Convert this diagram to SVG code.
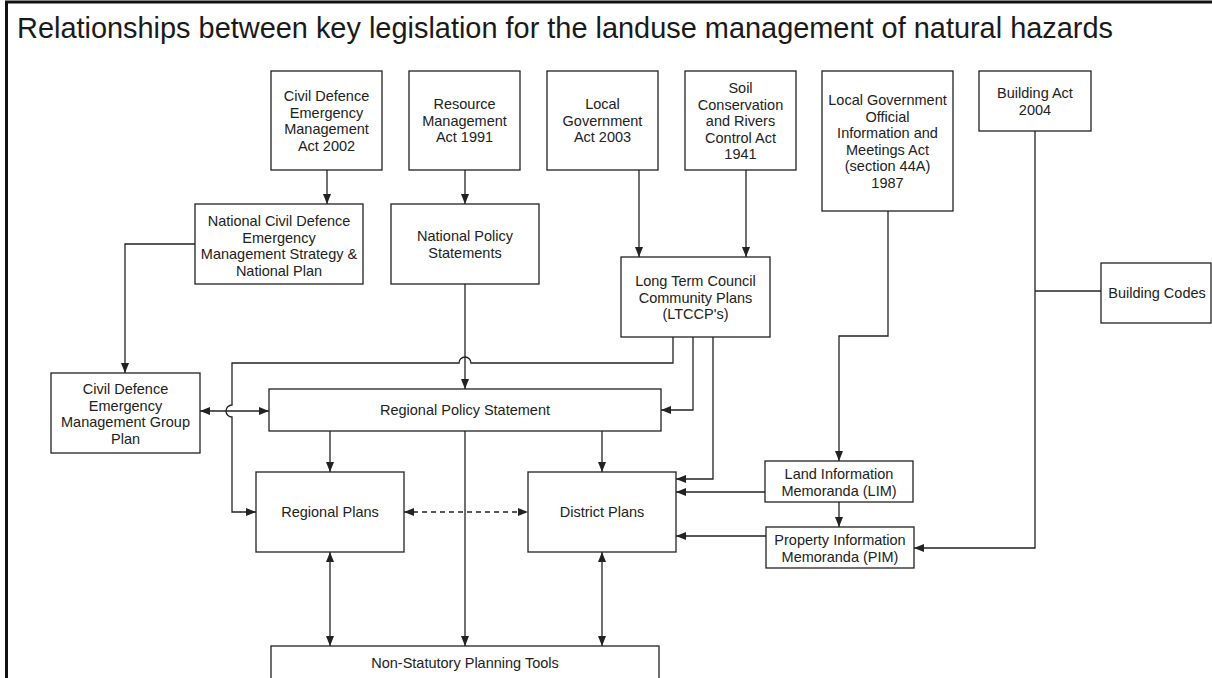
<svg xmlns="http://www.w3.org/2000/svg" width="1212" height="678" viewBox="0 0 1212 678">
<style>
.box{fill:#fff;stroke:#222;stroke-width:1.3}
.t{font-family:"Liberation Sans",Arial,sans-serif;font-size:14.5px;fill:#222;text-anchor:middle}
.title{font-family:"Liberation Sans",Arial,sans-serif;font-size:29px;fill:#1a1a1a}
.c{fill:none;stroke:#222;stroke-width:1.3}
.e{marker-end:url(#ah)}
.b{marker-start:url(#ah);marker-end:url(#ah)}
.d{stroke-dasharray:5 4}
</style>
<defs>
<marker id="ah" viewBox="0 0 10 8" refX="10" refY="4" markerWidth="10" markerHeight="8" markerUnits="userSpaceOnUse" orient="auto-start-reverse">
<path d="M0,0 L10,4 L0,8 z" fill="#222"/>
</marker>
</defs>
<rect width="1212" height="678" fill="#fff"/>
<path d="M6.5,690 V2 H1220" fill="none" stroke="#111" stroke-width="3"/>
<text class="title" x="17" y="38" textLength="1096" lengthAdjust="spacingAndGlyphs">Relationships between key legislation for the landuse management of natural hazards</text>

<g id="connectors">
<path class="c e" d="M327,170 V204"/>
<path class="c e" d="M465,170 V204"/>
<path class="c e" d="M639,170 V257"/>
<path class="c e" d="M746,170 V257"/>
<path class="c e" d="M195,244 H125 V373"/>
<path class="c e" d="M465,284 V389"/>
<path class="c e" d="M673,337 V363 H471 A6,6 0 0 0 459,363 H232 V405 A6,6 0 0 0 232,417 V512 H256"/>
<path class="c e" d="M693,337 V410 H661"/>
<path class="c e" d="M713,337 V479 H676"/>
<path class="c b" d="M200,411 H269"/>
<path class="c e" d="M330,431 V472"/>
<path class="c e" d="M602,431 V472"/>
<path class="c e" d="M465,431 V646"/>
<path class="c b d" d="M404,512 H528"/>
<path class="c b" d="M330,552 V646"/>
<path class="c b" d="M602,552 V646"/>
<path class="c e" d="M888,211 V336 H839 V461"/>
<path class="c e" d="M765,492 H676"/>
<path class="c e" d="M839,502 V527"/>
<path class="c e" d="M766,536 H676"/>
<path class="c e" d="M1035,131 V548 H914"/>
<path class="c" d="M1035,291 H1101"/>
</g>

<g id="cdem-act">
<rect class="box" x="271" y="71" width="111" height="99"/>
<text class="t" x="326.5" y="101">Civil Defence</text>
<text class="t" x="326.5" y="117.5">Emergency</text>
<text class="t" x="326.5" y="134">Management</text>
<text class="t" x="326.5" y="150.5">Act 2002</text>
</g>
<g id="rma">
<rect class="box" x="409" y="71" width="111" height="99"/>
<text class="t" x="464.5" y="109">Resource</text>
<text class="t" x="464.5" y="125.5">Management</text>
<text class="t" x="464.5" y="142">Act 1991</text>
</g>
<g id="lga">
<rect class="box" x="547" y="71" width="111" height="99"/>
<text class="t" x="602.5" y="109">Local</text>
<text class="t" x="602.5" y="125.5">Government</text>
<text class="t" x="602.5" y="142">Act 2003</text>
</g>
<g id="soil">
<rect class="box" x="685" y="71" width="111" height="99"/>
<text class="t" x="740.5" y="93">Soil</text>
<text class="t" x="740.5" y="109.5">Conservation</text>
<text class="t" x="740.5" y="126">and Rivers</text>
<text class="t" x="740.5" y="142.5">Control Act</text>
<text class="t" x="740.5" y="159">1941</text>
</g>
<g id="lgoima">
<rect class="box" x="822" y="71" width="131" height="140"/>
<text class="t" x="887.5" y="105">Local Government</text>
<text class="t" x="887.5" y="121.5">Official</text>
<text class="t" x="887.5" y="138">Information and</text>
<text class="t" x="887.5" y="154.5">Meetings Act</text>
<text class="t" x="887.5" y="171">(section 44A)</text>
<text class="t" x="887.5" y="187.5">1987</text>
</g>
<g id="building-act">
<rect class="box" x="979" y="71" width="112" height="60"/>
<text class="t" x="1035" y="98">Building Act</text>
<text class="t" x="1035" y="114.5">2004</text>
</g>
<g id="building-codes">
<rect class="box" x="1101" y="263" width="110" height="60"/>
<text class="t" x="1157" y="298">Building Codes</text>
</g>
<g id="ncdem-strategy">
<rect class="box" x="195" y="204" width="168" height="80"/>
<text class="t" x="279" y="226">National Civil Defence</text>
<text class="t" x="279" y="242.5">Emergency</text>
<text class="t" x="279" y="259">Management Strategy &amp;</text>
<text class="t" x="279" y="275.5">National Plan</text>
</g>
<g id="nps">
<rect class="box" x="391" y="204" width="148" height="80"/>
<text class="t" x="465" y="241">National Policy</text>
<text class="t" x="465" y="258">Statements</text>
</g>
<g id="ltccp">
<rect class="box" x="621" y="257" width="149" height="80"/>
<text class="t" x="695.5" y="286">Long Term Council</text>
<text class="t" x="695.5" y="302.5">Community Plans</text>
<text class="t" x="695.5" y="319">(LTCCP's)</text>
</g>
<g id="cdem-group-plan">
<rect class="box" x="51" y="373" width="149" height="80"/>
<text class="t" x="125.5" y="394">Civil Defence</text>
<text class="t" x="125.5" y="410.5">Emergency</text>
<text class="t" x="125.5" y="427">Management Group</text>
<text class="t" x="125.5" y="443.5">Plan</text>
</g>
<g id="rps">
<rect class="box" x="269" y="389" width="392" height="42"/>
<text class="t" x="465" y="415">Regional Policy Statement</text>
</g>
<g id="regional-plans">
<rect class="box" x="256" y="472" width="148" height="80"/>
<text class="t" x="330" y="517">Regional Plans</text>
</g>
<g id="district-plans">
<rect class="box" x="528" y="472" width="148" height="80"/>
<text class="t" x="602" y="517">District Plans</text>
</g>
<g id="lim">
<rect class="box" x="765" y="461" width="148" height="41"/>
<text class="t" x="839" y="479">Land Information</text>
<text class="t" x="839" y="496">Memoranda (LIM)</text>
</g>
<g id="pim">
<rect class="box" x="766" y="527" width="148" height="41"/>
<text class="t" x="840" y="545">Property Information</text>
<text class="t" x="840" y="562">Memoranda (PIM)</text>
</g>
<g id="non-statutory">
<rect class="box" x="271" y="646" width="388" height="60"/>
<text class="t" x="465" y="668">Non-Statutory Planning Tools</text>
</g>
</svg>
